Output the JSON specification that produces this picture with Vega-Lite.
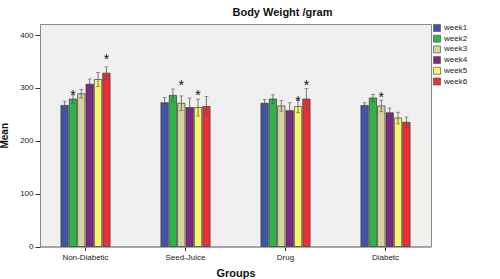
{
  "$schema": "https://vega.github.io/schema/vega-lite/v6.json",
  "autosize": {"type": "none"},
  "width": 391,
  "height": 222.5,
  "padding": {"left": 40, "top": 24, "right": 69, "bottom": 32.5},
  "background": "white",
  "config": {
    "font": "Liberation Sans",
    "view": {"fill": "#f0f0f0", "stroke": "#8a8a8a", "strokeWidth": 1}
  },
  "title": {"text": "Body Weight /gram", "fontSize": 11, "fontWeight": "bold", "color": "#111", "anchor": "middle", "dx": 47, "offset": 6},
  "datasets": {
    "bars": [
      {"group": "Non-Diabetic", "week": "week1", "mean": 267, "low": 259, "high": 275},
      {"group": "Non-Diabetic", "week": "week2", "mean": 279, "low": 271, "high": 287},
      {"group": "Non-Diabetic", "week": "week3", "mean": 289, "low": 281, "high": 297},
      {"group": "Non-Diabetic", "week": "week4", "mean": 307, "low": 297, "high": 317},
      {"group": "Non-Diabetic", "week": "week5", "mean": 316, "low": 303, "high": 329},
      {"group": "Non-Diabetic", "week": "week6", "mean": 328, "low": 316, "high": 340},
      {"group": "Seed-Juice", "week": "week1", "mean": 272, "low": 262, "high": 282},
      {"group": "Seed-Juice", "week": "week2", "mean": 286, "low": 274, "high": 298},
      {"group": "Seed-Juice", "week": "week3", "mean": 271, "low": 257, "high": 285},
      {"group": "Seed-Juice", "week": "week4", "mean": 263, "low": 245, "high": 281},
      {"group": "Seed-Juice", "week": "week5", "mean": 263, "low": 247, "high": 279},
      {"group": "Seed-Juice", "week": "week6", "mean": 265, "low": 246, "high": 284},
      {"group": "Drug", "week": "week1", "mean": 271, "low": 264, "high": 278},
      {"group": "Drug", "week": "week2", "mean": 279, "low": 271, "high": 287},
      {"group": "Drug", "week": "week3", "mean": 266, "low": 256, "high": 276},
      {"group": "Drug", "week": "week4", "mean": 257, "low": 242, "high": 272},
      {"group": "Drug", "week": "week5", "mean": 265, "low": 253, "high": 277},
      {"group": "Drug", "week": "week6", "mean": 279, "low": 259, "high": 299},
      {"group": "Diabetc", "week": "week1", "mean": 267, "low": 262, "high": 272},
      {"group": "Diabetc", "week": "week2", "mean": 281, "low": 274, "high": 288},
      {"group": "Diabetc", "week": "week3", "mean": 266, "low": 255, "high": 277},
      {"group": "Diabetc", "week": "week4", "mean": 253, "low": 244, "high": 262},
      {"group": "Diabetc", "week": "week5", "mean": 243, "low": 232, "high": 254},
      {"group": "Diabetc", "week": "week6", "mean": 235, "low": 225, "high": 245}
    ],
    "stars": [
      {"group": "Non-Diabetic", "week": "week2", "pos": 290},
      {"group": "Non-Diabetic", "week": "week6", "pos": 358},
      {"group": "Seed-Juice", "week": "week3", "pos": 309},
      {"group": "Seed-Juice", "week": "week5", "pos": 290},
      {"group": "Drug", "week": "week5", "pos": 280},
      {"group": "Drug", "week": "week6", "pos": 310},
      {"group": "Diabetc", "week": "week3", "pos": 287}
    ]
  },
  "encoding": {
    "x": {
      "field": "group", "type": "nominal",
      "sort": ["Non-Diabetic", "Seed-Juice", "Drug", "Diabetc"],
      "scale": {"paddingInner": 0.5, "paddingOuter": 0.205},
      "axis": {
        "title": "Groups", "titleFontSize": 11, "titleFontWeight": "bold", "titleColor": "#111", "titlePadding": 6,
        "labelAngle": 0, "labelFontSize": 8, "labelColor": "#222", "labelPadding": 3,
        "tickSize": 4, "tickColor": "#333", "domainColor": "#8a8a8a"
      }
    },
    "xOffset": {
      "field": "week", "type": "nominal",
      "sort": ["week1", "week2", "week3", "week4", "week5", "week6"],
      "scale": {"paddingInner": 0.12, "paddingOuter": 0.05}
    }
  },
  "layer": [
    {
      "data": {"name": "bars"},
      "mark": {"type": "bar", "stroke": "#3a3a3a", "strokeWidth": 0.7},
      "encoding": {
        "y": {
          "field": "mean", "type": "quantitative",
          "scale": {"domain": [0, 421], "nice": false},
          "axis": {
            "title": "Mean", "titleFontSize": 10, "titleFontWeight": "bold", "titleColor": "#111", "titlePadding": 10,
            "values": [0, 100, 200, 300, 400], "grid": false,
            "labelFontSize": 8, "labelColor": "#222", "labelPadding": 2,
            "tickSize": 5, "tickColor": "#333", "domainColor": "#8a8a8a"
          }
        },
        "color": {
          "field": "week", "type": "nominal",
          "scale": {
            "domain": ["week1", "week2", "week3", "week4", "week5", "week6"],
            "range": ["#3f56a6", "#2fb34a", "#d8d39c", "#7a2a80", "#f9f56c", "#ea3038"]
          },
          "legend": {
            "title": null, "orient": "none", "legendX": 393, "legendY": 0,
            "symbolType": "square", "symbolSize": 49, "symbolStrokeColor": "#555", "symbolStrokeWidth": 0.7,
            "symbolOpacity": 1, "labelFontSize": 8, "labelColor": "#222", "labelOffset": 3, "rowPadding": 0.7,
            "padding": 0
          }
        }
      }
    },
    {
      "data": {"name": "bars"},
      "mark": {"type": "rule", "color": "#555", "strokeWidth": 0.8},
      "encoding": {
        "y": {"field": "low", "type": "quantitative"},
        "y2": {"field": "high"}
      }
    },
    {
      "data": {"name": "bars"},
      "mark": {"type": "tick", "color": "#555", "size": 4, "thickness": 0.8},
      "encoding": {"y": {"field": "high", "type": "quantitative"}}
    },
    {
      "data": {"name": "bars"},
      "mark": {"type": "tick", "color": "#555", "size": 4, "thickness": 0.8},
      "encoding": {"y": {"field": "low", "type": "quantitative"}}
    },
    {
      "data": {"name": "stars"},
      "mark": {"type": "text", "text": "*", "fontSize": 14, "baseline": "middle", "dy": 3, "color": "#111"},
      "encoding": {"y": {"field": "pos", "type": "quantitative"}}
    }
  ]
}
